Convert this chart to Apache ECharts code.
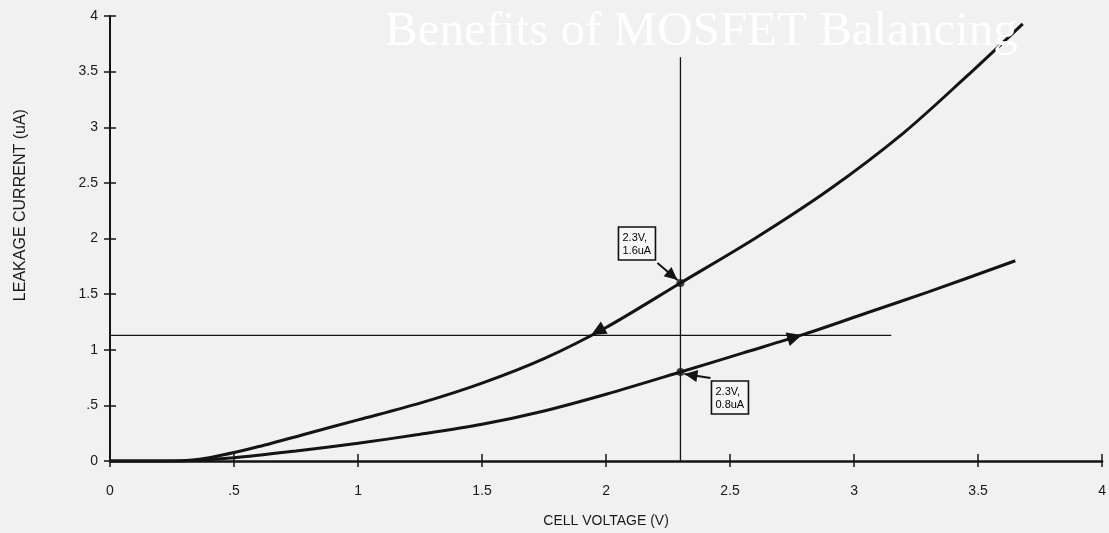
<!DOCTYPE html>
<html>
<head>
<meta charset="utf-8">
<title>Benefits of MOSFET Balancing</title>
<script src="https://cdn.jsdelivr.net/npm/echarts@6/dist/echarts.min.js"></script>
<style>
  html, body { margin: 0; padding: 0; background: #f1f1f1; }
  #chart { width: 1109px; height: 533px; }
</style>
</head>
<body>
<div id="chart"></div>
<script>
// Leakage current (uA) against cell voltage (V) for the two cells
const upperVoltage = [0, 0.25, 0.4, 0.6, 0.8, 1.0, 1.25, 1.5, 1.75, 2.0, 2.3, 2.6, 2.9, 3.2, 3.45, 3.68];
const upperCurrent = [0, 0.0, 0.03, 0.13, 0.25, 0.37, 0.52, 0.70, 0.92, 1.20, 1.6, 2.0, 2.44, 2.95, 3.45, 3.93];
const lowerVoltage = [0, 0.25, 0.5, 0.75, 1.0, 1.25, 1.5, 1.75, 2.0, 2.3, 2.55, 2.8, 3.05, 3.3, 3.65];
const lowerCurrent = [0, 0.0, 0.03, 0.09, 0.16, 0.24, 0.33, 0.45, 0.60, 0.8, 0.97, 1.14, 1.33, 1.52, 1.80];

// Axis tick labels
const xTickLabels = ['0', '.5', '1', '1.5', '2', '2.5', '3', '3.5', '4'];
const yTickLabels = ['0', '.5', '1', '1.5', '2', '2.5', '3', '3.5', '4'];

// Reference lines: constant current and constant voltage
const refCurrent = 1.13;
const refCurrentVoltageSpan = [0, 3.15];
const refVoltage = 2.3;
const refVoltageCurrentSpan = [0, 3.63];

// Operating points called out at 2.3 V
const markedVoltage = [2.3, 2.3];
const markedCurrent = [1.6, 0.8];
const markedLabels = ['2.3V,\n1.6uA', '2.3V,\n0.8uA'];

// Where each curve meets the constant-current line
const crossingVoltage = [1.94, 2.79];

const INK = '#141414';
const BG = '#f1f1f1';

function zip(xs, ys) { return xs.map((x, i) => [x, ys[i]]); }
function interp(xs, ys, x) {
  for (let i = 1; i < xs.length; i++) {
    if (x <= xs[i]) {
      const t = (x - xs[i - 1]) / (xs[i] - xs[i - 1]);
      return ys[i - 1] + t * (ys[i] - ys[i - 1]);
    }
  }
  return ys[ys.length - 1];
}

const chart = echarts.init(document.getElementById('chart'), null, { renderer: 'canvas' });

const axisFont = { fontFamily: 'Liberation Sans', fontSize: 14, color: '#1a1a1a' };

const option = {
  backgroundColor: BG,
  animation: false,
  title: {
    text: 'Benefits of MOSFET Balancing',
    left: 380,
    top: 3,
    textStyle: { fontFamily: 'Liberation Serif', fontSize: 49, fontWeight: 'normal', color: '#ffffff' }
  },
  grid: { left: 110, right: 4, top: 16, bottom: 70, containLabel: false },
  xAxis: [
    {
      type: 'value', min: 0, max: 4, interval: 0.5,
      name: 'CELL VOLTAGE (V)', nameLocation: 'middle', nameGap: 53,
      nameTextStyle: { fontFamily: 'Liberation Sans', fontSize: 14, color: '#1a1a1a' },
      axisLine: { lineStyle: { color: INK, width: 2.5 } },
      axisTick: { show: true, length: 6, lineStyle: { color: INK, width: 1.5 } },
      axisLabel: Object.assign({ margin: 23, formatter: v => xTickLabels[Math.round(v / 0.5)] }, axisFont),
      splitLine: { show: false }
    },
    {
      type: 'value', min: 0, max: 4, interval: 0.5, position: 'bottom',
      axisLine: { show: false },
      axisTick: { show: true, inside: true, length: 7, lineStyle: { color: INK, width: 1.5 } },
      axisLabel: { show: false },
      splitLine: { show: false }
    }
  ],
  yAxis: [
    {
      type: 'value', min: 0, max: 4, interval: 0.5,
      axisLine: { lineStyle: { color: INK, width: 2 } },
      axisTick: { show: true, length: 6, lineStyle: { color: INK, width: 1.5 } },
      axisLabel: Object.assign({ margin: 12, formatter: v => yTickLabels[Math.round(v / 0.5)] }, axisFont),
      splitLine: { show: false }
    },
    {
      type: 'value', min: 0, max: 4, interval: 0.5, position: 'left',
      axisLine: { show: false },
      axisTick: { show: true, inside: true, length: 6, lineStyle: { color: INK, width: 1.5 } },
      axisLabel: { show: false },
      splitLine: { show: false }
    }
  ],
  series: [
    {
      name: 'Cell A', type: 'line', smooth: 0.3, symbol: 'none',
      data: zip(upperVoltage, upperCurrent),
      lineStyle: { color: INK, width: 3 }, z: 5
    },
    {
      name: 'Cell B', type: 'line', smooth: 0.3, symbol: 'none',
      data: zip(lowerVoltage, lowerCurrent),
      lineStyle: { color: INK, width: 3 }, z: 5
    },
    {
      name: 'Constant current', type: 'line', symbol: 'none',
      data: refCurrentVoltageSpan.map(v => [v, refCurrent]),
      lineStyle: { color: INK, width: 1.3 }, z: 3
    },
    {
      name: 'Constant voltage', type: 'line', symbol: 'none',
      data: refVoltageCurrentSpan.map(c => [refVoltage, c]),
      lineStyle: { color: INK, width: 1.3 }, z: 3
    },
    {
      name: 'Operating points', type: 'scatter', symbol: 'circle', symbolSize: 8,
      data: zip(markedVoltage, markedCurrent),
      itemStyle: { color: INK }, z: 6
    }
  ]
};

chart.setOption(option);

// Arrowhead as a filled triangle whose tip sits at `tip`, pointing away from `from`
function arrowHead(from, tip, len, halfW) {
  const dx = tip[0] - from[0], dy = tip[1] - from[1];
  const d = Math.hypot(dx, dy) || 1;
  const ux = dx / d, uy = dy / d;
  const bx = tip[0] - ux * len, by = tip[1] - uy * len;
  return {
    type: 'polygon', z: 20,
    shape: { points: [tip, [bx - uy * halfW, by + ux * halfW], [bx + uy * halfW, by - ux * halfW]] },
    style: { fill: INK }
  };
}

const px = p => chart.convertToPixel({ gridIndex: 0 }, p);
const graphics = [];

// Vertical axis title, centred a little above the middle of the axis
const yTitleAt = px([0, 2.3]);
graphics.push({
  type: 'text', z: 10, x: 21, y: yTitleAt[1], rotation: Math.PI / 2,
  style: {
    text: 'LEAKAGE CURRENT (uA)', font: '16px "Liberation Sans"', fill: '#1a1a1a',
    align: 'center', verticalAlign: 'middle'
  }
});

// Callout boxes with arrows pointing at the operating points
const calloutLayout = [
  { box: [-62, -56], tail: [-23, -20], tip: [-3, -3] },
  { box: [31, 9], tail: [30, 6], tip: [4, 2] }
];
markedVoltage.forEach((v, i) => {
  const p = px([v, markedCurrent[i]]);
  const L = calloutLayout[i];
  const bx = p[0] + L.box[0], by = p[1] + L.box[1];
  graphics.push({
    type: 'rect', z: 20,
    shape: { x: bx, y: by, width: 37, height: 33 },
    style: { fill: '#f6f6f6', stroke: '#111', lineWidth: 1.6 }
  });
  graphics.push({
    type: 'text', z: 21,
    style: {
      x: bx + 4, y: by + 4, text: markedLabels[i],
      font: '11px "Liberation Sans"', fill: '#000', lineHeight: 13
    }
  });
  const tail = [p[0] + L.tail[0], p[1] + L.tail[1]];
  const tip = [p[0] + L.tip[0], p[1] + L.tip[1]];
  graphics.push({
    type: 'line', z: 20,
    shape: { x1: tail[0], y1: tail[1], x2: tip[0], y2: tip[1] },
    style: { stroke: INK, lineWidth: 2 }
  });
  graphics.push(arrowHead(tail, tip, 13, 6));
});

// Arrowheads on the curves where they cross the constant-current line
const curveSets = [
  { xs: upperVoltage, ys: upperCurrent, back: 0.14 },
  { xs: lowerVoltage, ys: lowerCurrent, back: -0.16 }
];
crossingVoltage.forEach((v, i) => {
  const c = curveSets[i];
  const tip = px([v, interp(c.xs, c.ys, v)]);
  const vFrom = v + c.back;
  const from = px([vFrom, interp(c.xs, c.ys, vFrom)]);
  graphics.push(arrowHead(from, tip, 15, 7));
});

chart.setOption({ graphic: graphics });
</script>
</body>
</html>
